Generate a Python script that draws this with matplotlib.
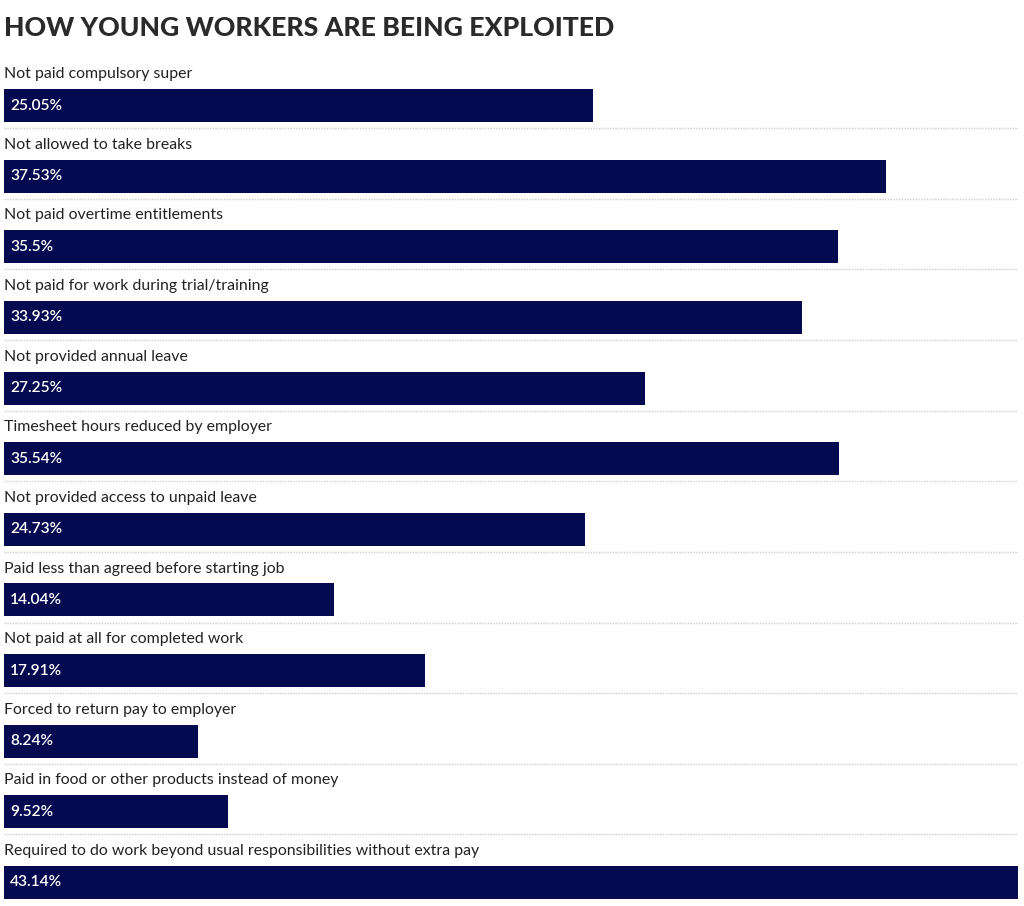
import matplotlib.pyplot as plt

categories = [
    'Not paid compulsory super',
    'Not allowed to take breaks',
    'Not paid overtime entitlements',
    'Not paid for work during trial/training',
    'Not provided annual leave',
    'Timesheet hours reduced by employer',
    'Not provided access to unpaid leave',
    'Paid less than agreed before starting job',
    'Not paid at all for completed work',
    'Forced to return pay to employer',
    'Paid in food or other products instead of money',
    'Required to do work beyond usual responsibilities without extra pay',
]
values = [25.05, 37.53, 35.5, 33.93, 27.25, 35.54, 24.73, 14.04, 17.91, 8.24, 9.52, 43.14]
value_labels = ['25.05%', '37.53%', '35.5%', '33.93%', '27.25%', '35.54%',
                '24.73%', '14.04%', '17.91%', '8.24%', '9.52%', '43.14%']

plt.rcParams['font.family'] = ['Lato', 'DejaVu Sans']

fig = plt.figure(figsize=(10.24, 9.06), dpi=100)
ax = fig.add_axes([4 / 1024, 0, 1014 / 1024, (906 - 35) / 906])

rows = list(range(len(categories)))
ax.barh(rows, values, height=0.467, color='#050a50', align='center')

for i, (cat, v, lab) in enumerate(zip(categories, values, value_labels)):
    ax.text(0, i - 0.445, cat, ha='left', va='center', fontsize=11.4, color='#222222')
    ax.text(0.26, i, lab, ha='left', va='center', fontsize=11.2, color='white',
            fontweight='semibold')
    if i < len(categories) - 1:
        ax.axhline(i + 0.32, color='#cccccc', lw=1, ls=(0, (1, 1)))

ax.set_xlim(0, max(values))
ax.set_ylim(11.333, -1.0)
ax.axis('off')

fig.text(4 / 1024, 1 - 28 / 906, 'HOW YOUNG WORKERS ARE BEING EXPLOITED',
         ha='left', va='center', fontsize=19.2, fontweight='black', color='#2a2a2a')

fig.savefig('out.png', dpi=100)
